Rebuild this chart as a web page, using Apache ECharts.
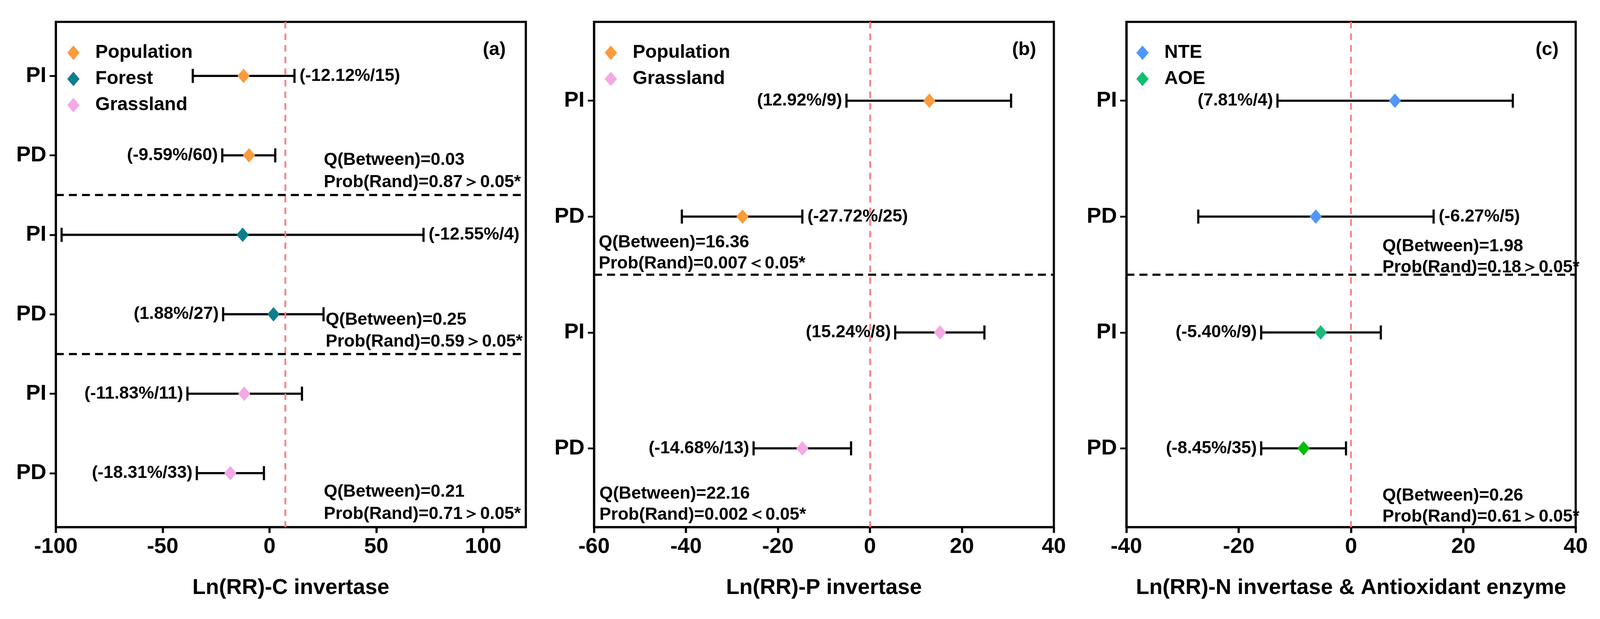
<!DOCTYPE html>
<html>
<head>
<meta charset="utf-8">
<script src="https://cdn.jsdelivr.net/npm/echarts@6/dist/echarts.min.js"></script>
<style>
html,body{margin:0;padding:0;background:#fff;overflow:hidden;}
#chart{width:100vw;height:100vh;}
</style>
</head>
<body>
<div id="chart"></div>
<script>
// ---------------- DATA ----------------
// Panel (a) C invertase
const aRows   = ['PI', 'PD', 'PI', 'PD', 'PI', 'PD'];
const aGroups = ['Population', 'Population', 'Forest', 'Forest', 'Grassland', 'Grassland'];
const aMean   = [-12.12, -9.59, -12.55, 1.88, -11.83, -18.31];
const aLow    = [-35.9, -22.1, -97.3, -21.7, -38.4, -34.0];
const aHigh   = [11.7, 2.7, 72.1, 25.3, 15.2, -2.6];
const aN      = [15, 60, 4, 27, 11, 33];
const aRef    = 7.3;
const aTicks  = [-100, -50, 0, 50, 100];
const aStats  = [['Q(Between)=0.03', 'Prob(Rand)=0.87＞0.05*'],
                 ['Q(Between)=0.25', 'Prob(Rand)=0.59＞0.05*'],
                 ['Q(Between)=0.21', 'Prob(Rand)=0.71＞0.05*']];

// Panel (b) P invertase
const bRows   = ['PI', 'PD', 'PI', 'PD'];
const bGroups = ['Population', 'Population', 'Grassland', 'Grassland'];
const bMean   = [12.92, -27.72, 15.24, -14.68];
const bLow    = [-5.1, -40.9, 5.5, -25.3];
const bHigh   = [30.7, -14.7, 24.9, -4.1];
const bN      = [9, 25, 8, 13];
const bRef    = 0;
const bTicks  = [-60, -40, -20, 0, 20, 40];
const bStats  = [['Q(Between)=16.36', 'Prob(Rand)=0.007＜0.05*'],
                 ['Q(Between)=22.16', 'Prob(Rand)=0.002＜0.05*']];

// Panel (c) N invertase & antioxidant enzyme
const cRows   = ['PI', 'PD', 'PI', 'PD'];
const cGroups = ['NTE', 'NTE', 'AOE', 'AOE'];
const cMean   = [7.81, -6.27, -5.40, -8.45];
const cLow    = [-13.1, -27.2, -16.0, -16.0];
const cHigh   = [28.8, 14.7, 5.3, -0.9];
const cN      = [4, 5, 9, 35];
const cRef    = 0;
const cTicks  = [-40, -20, 0, 20, 40];
const cStats  = [['Q(Between)=1.98', 'Prob(Rand)=0.18＞0.05*'],
                 ['Q(Between)=0.26', 'Prob(Rand)=0.61＞0.05*']];

// ---------------- STYLE / LAYOUT (reference px on a 4412 x 1584 canvas) ----------------
const FONT = '"Liberation Sans", Arial, Helvetica, sans-serif';
const groupColor = {
  Population: '#fa9b3c', Forest: '#0b7e8e', Grassland: '#f4a8e6',
  NTE: '#4f97fb', AOE: '#14bd74'
};
const pointColorOverride = { c: [null, null, '#18bb78', '#00bf00'] };

const panels = [
  { key: 'a', tag: '(a)', rows: aRows, groups: aGroups, mean: aMean, low: aLow, high: aHigh, n: aN,
    ref: aRef, ticks: aTicks, min: -100, max: 120, title: 'Ln(RR)-C invertase',
    legend: ['Population', 'Forest', 'Grassland'], seps: [2.5, 4.5],
    sides: ['right', 'left', 'right', 'left', 'left', 'left'],
    grid: { left: 154, width: 1296 }, tagX: 1363, legendX: 180,
    stats: aStats, statPos: [[893, 410, 467], [898, 819, 875], [893, 1259, 1316]] },
  { key: 'b', tag: '(b)', rows: bRows, groups: bGroups, mean: bMean, low: bLow, high: bHigh, n: bN,
    ref: bRef, ticks: bTicks, min: -60, max: 40, title: 'Ln(RR)-P invertase',
    legend: ['Population', 'Grassland'], seps: [2.5],
    sides: ['left', 'right', 'left', 'left'],
    grid: { left: 1638, width: 1268 }, tagX: 2824, legendX: 1662,
    stats: bStats, statPos: [[1651, 621, 675], [1653, 1264, 1318]] },
  { key: 'c', tag: '(c)', rows: cRows, groups: cGroups, mean: cMean, low: cLow, high: cHigh, n: cN,
    ref: cRef, ticks: cTicks, min: -40, max: 40, title: 'Ln(RR)-N invertase & Antioxidant enzyme',
    legend: ['NTE', 'AOE'], seps: [2.5],
    sides: ['left', 'right', 'left', 'left'],
    grid: { left: 3106, width: 1239 }, tagX: 4266, legendX: 3128,
    stats: cStats, statPos: [[3812, 631, 685], [3812, 1269, 1323]] }
];

const REF_W = 4412, REF_H = 1584;
const GRID_TOP = 56, GRID_H = 1293, PAD = 0.68;

const chart = echarts.init(document.getElementById('chart'), null, { renderer: 'canvas' });
const W = chart.getWidth(), H = chart.getHeight();
const sx = W / REF_W, sy = H / REF_H, s = Math.min(sx, sy);
const X = v => v * sx, Y = v => v * sy, S = v => v * s;

const option = {
  backgroundColor: '#ffffff',
  animation: false,
  grid: [], xAxis: [], yAxis: [], series: [], legend: [], graphic: []
};

panels.forEach((p, pi) => {
  const N = p.rows.length;
  const rowVals = p.rows.map((_, i) => i + 1);
  option.grid.push({
    left: X(p.grid.left), top: Y(GRID_TOP), width: X(p.grid.width), height: Y(GRID_H),
    show: true, borderColor: '#000', borderWidth: S(6), backgroundColor: 'rgba(0,0,0,0)'
  });
  option.xAxis.push({
    type: 'value', gridIndex: pi, min: p.min, max: p.max,
    axisLine: { show: true, onZero: false, lineStyle: { color: '#000', width: S(6) } },
    axisTick: { show: true, customValues: p.ticks, length: S(16), lineStyle: { color: '#000', width: S(6) } },
    axisLabel: { customValues: p.ticks, fontSize: S(60), fontWeight: 'bold', fontFamily: FONT, color: '#000', margin: S(24) },
    splitLine: { show: false },
    name: p.title, nameLocation: 'middle', nameGap: S(138),
    nameTextStyle: { fontSize: S(60), fontWeight: 'bold', fontFamily: FONT, color: '#000' }
  });
  option.yAxis.push({
    type: 'value', gridIndex: pi, min: 1 - PAD, max: N + PAD, inverse: true,
    axisLine: { show: true, onZero: false, lineStyle: { color: '#000', width: S(6) } },
    axisTick: { show: true, customValues: rowVals, length: S(17), lineStyle: { color: '#000', width: S(5) } },
    axisLabel: {
      customValues: rowVals, fontSize: S(60), fontWeight: 'bold', fontFamily: FONT, color: '#000', margin: S(26),
      formatter: v => p.rows[Math.round(v) - 1] || ''
    },
    splitLine: { show: false }
  });

  const labels = p.mean.map((m, i) => '(' + m.toFixed(2) + '%/' + p.n[i] + ')');

  // error bars + value labels + reference lines
  option.series.push({
    type: 'custom', xAxisIndex: pi, yAxisIndex: pi, z: 3, silent: true, clip: false,
    data: p.low.map((lo, i) => [lo, p.high[i], i + 1]),
    renderItem: function (params, api) {
      const i = params.dataIndex;
      const a = api.coord([api.value(0), api.value(2)]);
      const b = api.coord([api.value(1), api.value(2)]);
      const h = Y(18);
      const side = p.sides[i];
      const lw = S(6);
      return {
        type: 'group',
        children: [
          { type: 'line', shape: { x1: a[0], y1: a[1], x2: b[0], y2: b[1] }, style: { stroke: '#000', lineWidth: lw } },
          { type: 'line', shape: { x1: a[0], y1: a[1] - h, x2: a[0], y2: a[1] + h }, style: { stroke: '#000', lineWidth: lw } },
          { type: 'line', shape: { x1: b[0], y1: b[1] - h, x2: b[0], y2: b[1] + h }, style: { stroke: '#000', lineWidth: lw } },
          { type: 'text', style: {
              text: labels[i], x: side === 'left' ? a[0] - X(12) : b[0] + X(14), y: a[1],
              align: side === 'left' ? 'right' : 'left', verticalAlign: 'middle',
              fontSize: S(48), fontWeight: 'bold', fontFamily: FONT, fill: '#000' } }
        ]
      };
    },
    markLine: {
      silent: true, symbol: ['none', 'none'], label: { show: false },
      data: [{ xAxis: p.ref, lineStyle: { color: '#ff7f82', width: S(5), type: [S(18), S(14)] } }]
        .concat(p.seps.map(v => ({ yAxis: v, lineStyle: { color: '#000', width: S(6), type: [S(22), S(14)] } })))
    }
  });

  // diamonds per group
  const uniq = [...new Set(p.groups)];
  uniq.forEach(g => {
    const data = [];
    p.groups.forEach((gg, i) => {
      if (gg !== g) return;
      const ov = pointColorOverride[p.key] && pointColorOverride[p.key][i];
      data.push(ov ? { value: [p.mean[i], i + 1], itemStyle: { color: ov } } : [p.mean[i], i + 1]);
    });
    option.series.push({
      type: 'scatter', name: g, xAxisIndex: pi, yAxisIndex: pi, z: 5,
      symbol: 'diamond', symbolSize: [X(34), Y(37)], silent: true,
      itemStyle: { color: groupColor[g], opacity: 1 },
      data: data
    });
  });

  option.legend.push({
    data: p.legend, orient: 'vertical', left: X(p.legendX), top: Y(106),
    icon: 'diamond', itemWidth: X(34), itemHeight: Y(37), itemGap: Y(19),
    selectedMode: false,
    textStyle: { fontSize: S(52), fontWeight: 'bold', fontFamily: FONT, color: '#000', lineHeight: Y(37), padding: [0, 0, 0, X(38)] }
  });

  option.graphic.push({
    type: 'text', x: X(p.tagX), y: Y(128), silent: true,
    style: { text: p.tag, align: 'center', verticalAlign: 'middle', fontSize: S(52), fontWeight: 'bold', fontFamily: FONT, fill: '#000' }
  });
  p.stats.forEach((st, k) => {
    const pos = p.statPos[k];
    option.graphic.push({
      type: 'text', x: X(pos[0]), y: Y(pos[1]), silent: true,
      style: { text: st[0], align: 'left', verticalAlign: 'middle', fontSize: S(48), fontWeight: 'bold', fontFamily: FONT, fill: '#000' }
    });
    option.graphic.push({
      type: 'text', x: X(pos[0]), y: Y(pos[2]), silent: true,
      style: { text: st[1], align: 'left', verticalAlign: 'middle', fontSize: S(48), fontWeight: 'bold', fontFamily: FONT, fill: '#000' }
    });
  });
});

chart.setOption(option);
</script>
</body>
</html>
